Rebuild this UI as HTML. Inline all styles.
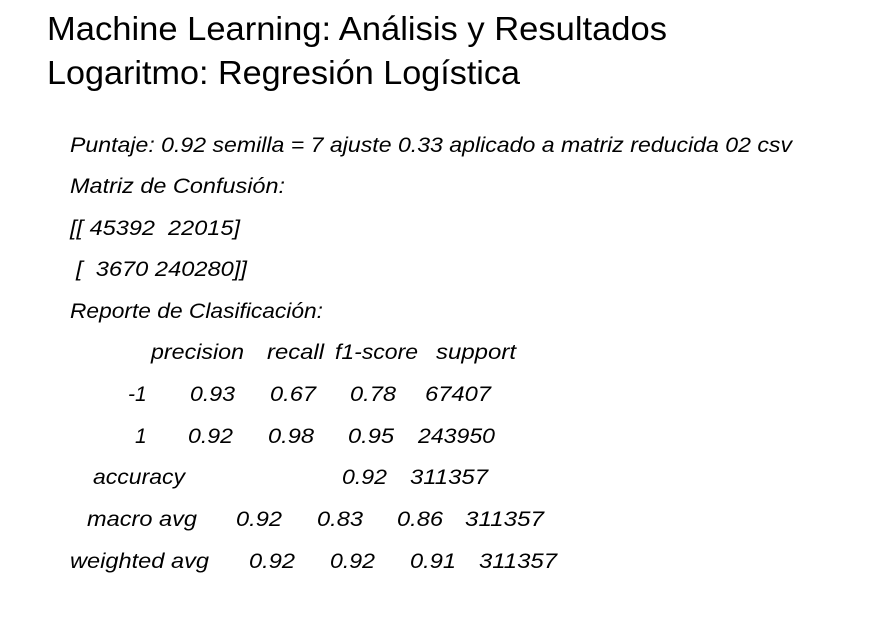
<!DOCTYPE html>
<html><head><meta charset="utf-8"><style>
html,body{margin:0;padding:0;background:#fff;}
svg{display:block}
.t{font-family:"Liberation Sans",sans-serif;font-size:33px;fill:#000}
.b{font-family:"Liberation Sans",sans-serif;font-size:21px;font-style:italic;fill:#000;white-space:pre}
</style></head><body>
<svg width="893" height="629" viewBox="0 0 893 629" xml:space="preserve">
<text class="t" x="47" y="40" textLength="620" lengthAdjust="spacingAndGlyphs">Machine Learning: Análisis y Resultados</text>
<text class="t" x="47" y="84" textLength="473" lengthAdjust="spacingAndGlyphs">Logaritmo: Regresión Logística</text>
<g>
<text class="b" x="70" y="152" textLength="722" lengthAdjust="spacingAndGlyphs">Puntaje: 0.92 semilla = 7 ajuste 0.33 aplicado a matriz reducida 02 csv</text>
<text class="b" x="70" y="193" textLength="215" lengthAdjust="spacingAndGlyphs">Matriz de Confusión:</text>
<text class="b" x="70" y="235" textLength="170" lengthAdjust="spacingAndGlyphs">[[ 45392  22015]</text>
<text class="b" x="76" y="276" textLength="171" lengthAdjust="spacingAndGlyphs">[  3670 240280]]</text>
<text class="b" x="70" y="318" textLength="253" lengthAdjust="spacingAndGlyphs">Reporte de Clasificación:</text>
<g>
<text class="b" x="151" y="359" textLength="93" lengthAdjust="spacingAndGlyphs">precision</text>
<text class="b" x="267" y="359" textLength="57" lengthAdjust="spacingAndGlyphs">recall</text>
<text class="b" x="335" y="359" textLength="83" lengthAdjust="spacingAndGlyphs">f1-score</text>
<text class="b" x="436" y="359" textLength="80" lengthAdjust="spacingAndGlyphs">support</text>
</g>
<g>
<text class="b" x="128" y="401">-1</text>
<text class="b" x="190" y="401" textLength="45" lengthAdjust="spacingAndGlyphs">0.93</text>
<text class="b" x="270" y="401" textLength="46" lengthAdjust="spacingAndGlyphs">0.67</text>
<text class="b" x="350" y="401" textLength="46" lengthAdjust="spacingAndGlyphs">0.78</text>
<text class="b" x="425" y="401" textLength="66" lengthAdjust="spacingAndGlyphs">67407</text>
</g>
<g>
<text class="b" x="135" y="443">1</text>
<text class="b" x="188" y="443" textLength="45" lengthAdjust="spacingAndGlyphs">0.92</text>
<text class="b" x="268" y="443" textLength="46" lengthAdjust="spacingAndGlyphs">0.98</text>
<text class="b" x="348" y="443" textLength="46" lengthAdjust="spacingAndGlyphs">0.95</text>
<text class="b" x="418" y="443" textLength="77" lengthAdjust="spacingAndGlyphs">243950</text>
</g>
<g>
<text class="b" x="93" y="484" textLength="92" lengthAdjust="spacingAndGlyphs">accuracy</text>
<text class="b" x="342" y="484" textLength="45" lengthAdjust="spacingAndGlyphs">0.92</text>
<text class="b" x="410" y="484" textLength="78" lengthAdjust="spacingAndGlyphs">311357</text>
</g>
<g>
<text class="b" x="87" y="526" textLength="110" lengthAdjust="spacingAndGlyphs">macro avg</text>
<text class="b" x="236" y="526" textLength="46" lengthAdjust="spacingAndGlyphs">0.92</text>
<text class="b" x="317" y="526" textLength="46" lengthAdjust="spacingAndGlyphs">0.83</text>
<text class="b" x="397" y="526" textLength="46" lengthAdjust="spacingAndGlyphs">0.86</text>
<text class="b" x="465" y="526" textLength="79" lengthAdjust="spacingAndGlyphs">311357</text>
</g>
<g>
<text class="b" x="70" y="568" textLength="139" lengthAdjust="spacingAndGlyphs">weighted avg</text>
<text class="b" x="249" y="568" textLength="46" lengthAdjust="spacingAndGlyphs">0.92</text>
<text class="b" x="330" y="568" textLength="45" lengthAdjust="spacingAndGlyphs">0.92</text>
<text class="b" x="410" y="568" textLength="46" lengthAdjust="spacingAndGlyphs">0.91</text>
<text class="b" x="479" y="568" textLength="78" lengthAdjust="spacingAndGlyphs">311357</text>
</g>
</g>
</svg>
</body></html>
